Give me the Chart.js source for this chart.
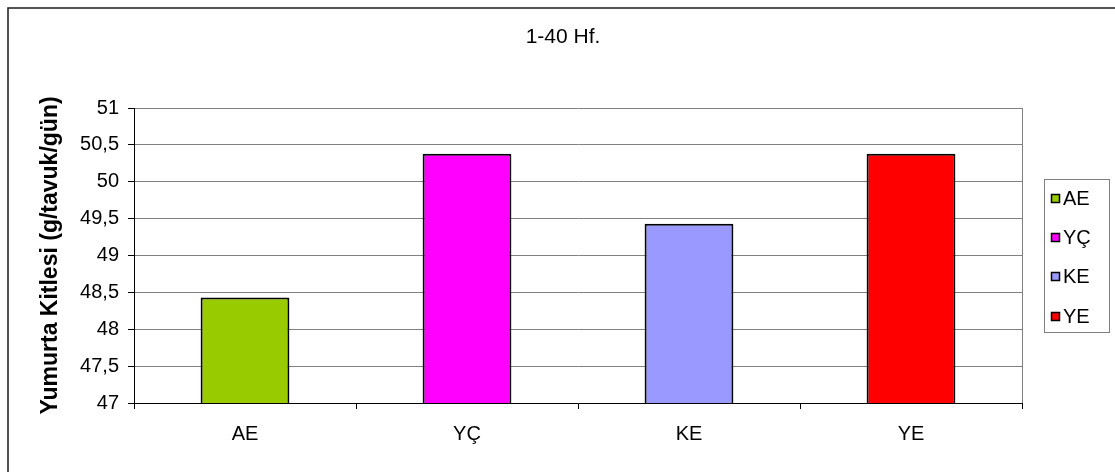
<!DOCTYPE html>
<html>
<head>
<meta charset="utf-8">
<script src="https://cdn.jsdelivr.net/npm/chart.js@4/dist/chart.umd.min.js"></script>
<style>
  html, body { margin: 0; padding: 0; background: #ffffff; }
  canvas { display: block; }
</style>
</head>
<body>
<canvas id="chart" width="1115" height="472"></canvas>
<script>
// Egg mass, weeks 1-40, per group
const chartTitle = '1-40 Hf.';
const yAxisTitle = 'Yumurta Kitlesi (g/tavuk/gün)';
const categories = ['AE', 'YÇ', 'KE', 'YE'];
const eggMass = [48.43, 50.38, 49.43, 50.38];
const barColors = ['#99CC00', '#FF00FF', '#9999FF', '#FF0000'];
const yMin = 47;
const yMax = 51;
const yStep = 0.5;

const FONT = "'Liberation Sans', Arial, sans-serif";

// Outer frame, chart title, right edge of the plot area
const decorations = {
  id: 'decorations',
  beforeDraw(chart) {
    const ctx = chart.ctx;
    ctx.save();
    ctx.fillStyle = '#ffffff';
    ctx.fillRect(0, 0, chart.width, chart.height);
    ctx.strokeStyle = '#1a1a1a';
    ctx.lineWidth = 1.5;
    ctx.strokeRect(8, 8, chart.width + 20, chart.height + 20);
    ctx.restore();
  },
  afterDraw(chart) {
    const ctx = chart.ctx;
    const a = chart.chartArea;
    ctx.save();
    ctx.strokeStyle = '#808080';
    ctx.lineWidth = 1;
    ctx.beginPath();
    ctx.moveTo(Math.round(a.right) + 0.5, a.top);
    ctx.lineTo(Math.round(a.right) + 0.5, a.bottom);
    ctx.stroke();

    ctx.fillStyle = '#000000';
    ctx.font = '21px ' + FONT;
    ctx.textAlign = 'center';
    ctx.textBaseline = 'middle';
    ctx.fillText(chartTitle, 563, 37);
    ctx.restore();
  }
};

// Boxed legend listing each category with its bar colour
const boxedLegend = {
  id: 'boxedLegend',
  afterDraw(chart) {
    const ctx = chart.ctx;
    const labels = chart.data.labels;
    const colors = chart.data.datasets[0].backgroundColor;
    const left = 1044, top = 179, width = 65, height = 153;
    const firstY = 198, rowGap = 39.2;
    ctx.save();
    ctx.fillStyle = '#ffffff';
    ctx.fillRect(left, top, width, height);
    ctx.strokeStyle = '#808080';
    ctx.lineWidth = 1;
    ctx.strokeRect(left + 0.5, top + 0.5, width, height);
    ctx.font = '20px ' + FONT;
    ctx.textAlign = 'left';
    ctx.textBaseline = 'middle';
    labels.forEach((label, i) => {
      const y = Math.round(firstY + i * rowGap);
      ctx.fillStyle = colors[i];
      ctx.fillRect(1051, y - 4, 9, 9);
      ctx.strokeStyle = '#000000';
      ctx.lineWidth = 1.5;
      ctx.strokeRect(1051.5, y - 3.5, 8, 8);
      ctx.fillStyle = '#000000';
      ctx.fillText(label, 1063, y + 1);
    });
    ctx.restore();
  }
};

new Chart(document.getElementById('chart'), {
  type: 'bar',
  data: {
    labels: categories,
    datasets: [{
      data: eggMass,
      backgroundColor: barColors,
      borderColor: '#000000',
      borderWidth: 2,
      barPercentage: 0.4,
      categoryPercentage: 1.0
    }]
  },
  options: {
    responsive: false,
    animation: false,
    devicePixelRatio: 1,
    layout: { padding: { left: 0, right: 93, top: 108, bottom: 0 } },
    plugins: {
      legend: { display: false },
      title: { display: false },
      tooltip: { enabled: false }
    },
    scales: {
      x: {
        offset: true,
        afterFit(scale) { scale.height = 69; },
        grid: {
          offset: true,
          drawOnChartArea: false,
          drawTicks: true,
          tickLength: 6,
          tickColor: '#000000'
        },
        border: { color: '#000000', width: 1 },
        ticks: {
          color: '#000000',
          padding: 13,
          font: { family: FONT, size: 20 }
        }
      },
      y: {
        min: yMin,
        max: yMax,
        afterFit(scale) { scale.width = 134; },
        grid: {
          color: '#808080',
          lineWidth: 1,
          tickLength: 6,
          tickColor: '#000000'
        },
        border: { color: '#000000', width: 1 },
        ticks: {
          stepSize: yStep,
          color: '#000000',
          padding: 9,
          font: { family: FONT, size: 20 },
          callback: (v) => String(Math.round(v * 10) / 10).replace('.', ',')
        },
        title: {
          display: true,
          text: yAxisTitle,
          color: '#000000',
          padding: { top: 37, bottom: 0 },
          font: { family: FONT, size: 23, weight: 'bold' }
        }
      }
    }
  },
  plugins: [decorations, boxedLegend]
});
</script>
</body>
</html>
